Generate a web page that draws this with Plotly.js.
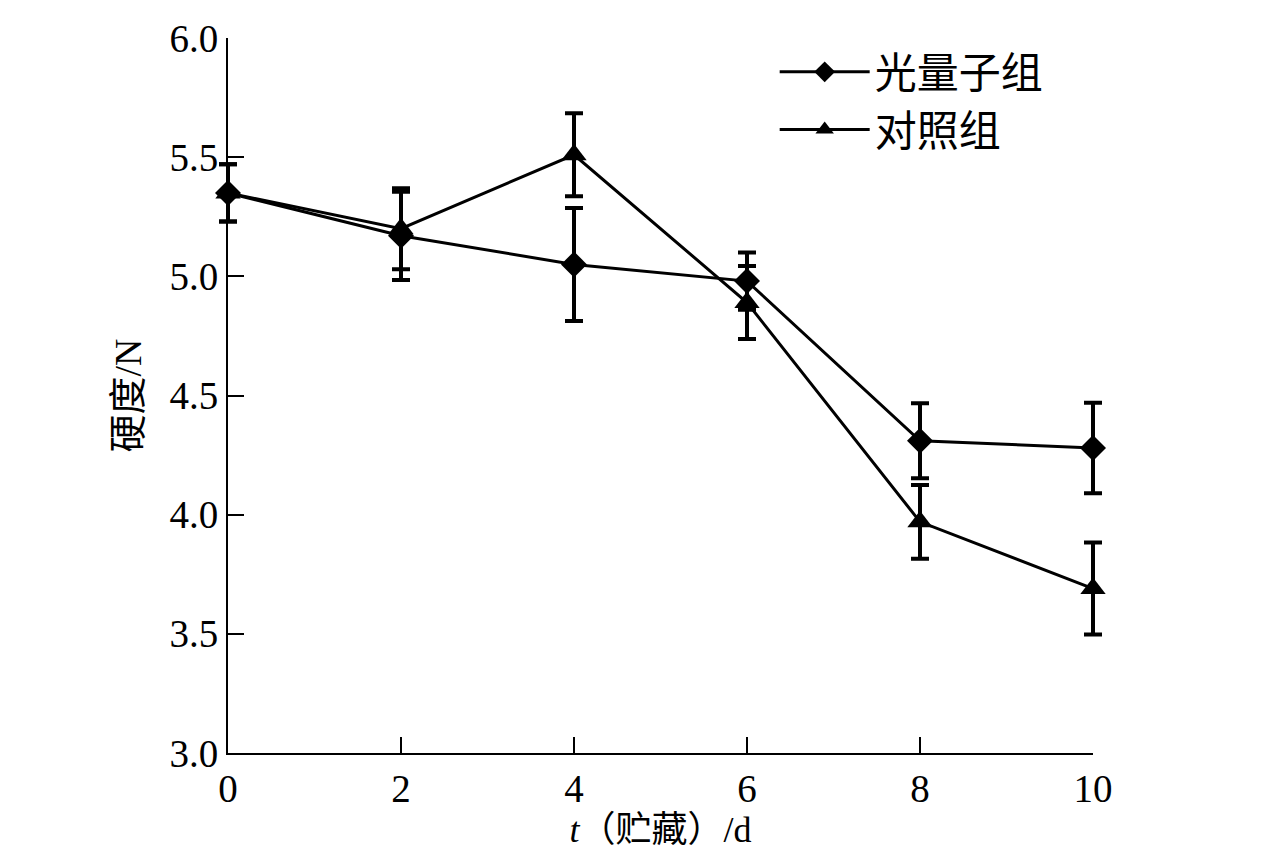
<!DOCTYPE html>
<html>
<head>
<meta charset="utf-8">
<script src="https://cdn.plot.ly/plotly-3.0.1.min.js"></script>
<style>
  html, body { margin: 0; padding: 0; background: #fff; }
  #chart { width: 1276px; height: 858px; }
</style>
</head>
<body>
<div id="chart"></div>
<script>
// storage days
const days = [0, 2, 4, 6, 8, 10];

// 光量子组 hardness and sd
const quantumVals = [5.35, 5.17, 5.05, 4.98, 4.31, 4.28];
const quantumErr = [0.12, 0.185, 0.237, 0.12, 0.157, 0.19];

// 对照组 hardness and sd
const controlVals = [5.35, 5.20, 5.51, 4.89, 3.97, 3.69];
const controlErr = [0.12, 0.17, 0.174, 0.153, 0.155, 0.193];

const yTicks = [3.0, 3.5, 4.0, 4.5, 5.0, 5.5, 6.0];
const xTicks = [0, 2, 4, 6, 8, 10];

const serif = "'Liberation Serif', 'Times New Roman', 'Noto Sans CJK SC', serif";

const traces = [
  {
    x: days,
    y: quantumVals,
    name: "光量子组",
    type: "scatter",
    mode: "lines+markers",
    cliponaxis: false,
    line: { color: "#000", width: 3 },
    marker: { symbol: "diamond", size: 20, color: "#000" },
    error_y: { type: "data", array: quantumErr, visible: true, color: "#000", thickness: 4, width: 9 }
  },
  {
    x: days,
    y: controlVals,
    name: "对照组",
    type: "scatter",
    mode: "lines+markers",
    cliponaxis: false,
    line: { color: "#000", width: 3 },
    marker: { symbol: "triangle-up", size: 22, color: "#000" },
    error_y: { type: "data", array: controlErr, visible: true, color: "#000", thickness: 4, width: 9 }
  }
];

const layout = {
  width: 1276,
  height: 858,
  margin: { l: 228, r: 183, t: 38, b: 105 },
  paper_bgcolor: "#fff",
  plot_bgcolor: "#fff",
  font: { family: serif, color: "#000", size: 38 },
  showlegend: true,
  legend: {
    x: 0.632,
    y: 1.0,
    xanchor: "left",
    yanchor: "top",
    bgcolor: "rgba(0,0,0,0)",
    font: { family: serif, size: 42, color: "#000" },
    itemwidth: 90,
    tracegroupgap: 0
  },
  xaxis: {
    range: [0, 10],
    tickvals: xTicks,
    ticktext: xTicks.map(String),
    ticks: "inside",
    ticklen: 16,
    tickwidth: 2,
    tickcolor: "#000",
    showline: true,
    linecolor: "#000",
    linewidth: 2,
    showgrid: false,
    zeroline: false,
    tickfont: { family: serif, size: 39 },
    title: {
      text: "<i>t</i>（贮藏）/d",
      font: { family: serif, size: 36 },
      standoff: 6
    }
  },
  yaxis: {
    range: [3, 6],
    tickvals: yTicks,
    ticktext: yTicks.map(v => v.toFixed(1)),
    ticks: "inside",
    ticklen: 16,
    tickwidth: 2,
    tickcolor: "#000",
    showline: true,
    linecolor: "#000",
    linewidth: 2,
    showgrid: false,
    zeroline: false,
    tickfont: { family: serif, size: 39 },
    title: {
      text: "硬度/N",
      font: { family: serif, size: 38 },
      standoff: 16
    }
  }
};

function unclip(gd) {
  // error bars at x=0 and x=10 sit on the plot edge, don't cut them in half
  gd.querySelectorAll(".cartesianlayer [clip-path], .cartesianlayer [style*='clip-path']").forEach(function (el) {
    el.removeAttribute("clip-path");
    el.style.clipPath = "";
  });
}

Plotly.newPlot("chart", traces, layout, { displayModeBar: false, staticPlot: true }).then(function (gd) {
  unclip(gd);
  setTimeout(function () { unclip(gd); }, 50);
});
</script>
</body>
</html>
